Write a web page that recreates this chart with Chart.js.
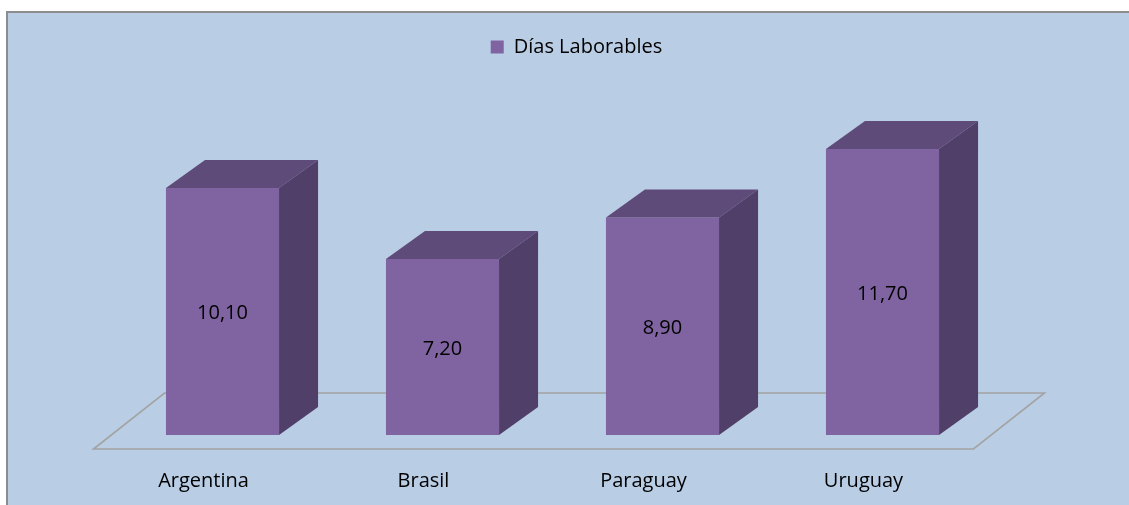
<!DOCTYPE html>
<html>
<head>
<meta charset="utf-8">
<script src="https://cdn.jsdelivr.net/npm/chart.js@4.4.1/dist/chart.umd.min.js"></script>
<style>
  html, body { margin: 0; padding: 0; background: #ffffff; }
  #wrap { position: relative; width: 1129px; height: 505px; }
</style>
</head>
<body>
<div id="wrap"><canvas id="chart" width="1129" height="505"></canvas></div>
<script>
// Días laborables por país
const categories = ['Argentina', 'Brasil', 'Paraguay', 'Uruguay'];
const seriesName = 'Días Laborables';
const diasLaborables = [10.10, 7.20, 8.90, 11.70];

const FONT = "'Open Sans', 'Noto Sans', sans-serif";
const FRONT = '#8064A2';
const TOP = '#5F4B7A';
const SIDE = '#503F68';
const PANEL = '#B9CDE5';

const fmt = v => v.toFixed(2).replace('.', ',');

// Panel background with a thin grey frame
const panelPlugin = {
  id: 'panel',
  beforeDraw(chart) {
    const ctx = chart.ctx;
    ctx.save();
    ctx.fillStyle = '#ffffff';
    ctx.fillRect(0, 0, chart.width, chart.height);
    ctx.fillStyle = PANEL;
    ctx.fillRect(6, 11, chart.width, chart.height);
    ctx.strokeStyle = '#8C8C8C';
    ctx.lineWidth = 2;
    ctx.beginPath();
    ctx.moveTo(7, chart.height + 2);
    ctx.lineTo(7, 12);
    ctx.lineTo(chart.width + 2, 12);
    ctx.stroke();
    ctx.restore();
  }
};

// Perspective floor and extruded bar faces
const depthPlugin = {
  id: 'depth',
  beforeDatasetsDraw(chart) {
    const { ctx, chartArea, scales } = chart;
    const base = scales.y.getPixelForValue(0);
    const fx = -19, fy = 14, bx = 52, by = -42;
    ctx.save();
    ctx.strokeStyle = '#A3A3A3';
    ctx.lineWidth = 1.6;
    ctx.beginPath();
    ctx.moveTo(chartArea.left + fx, base + fy);
    ctx.lineTo(chartArea.right + fx, base + fy);
    ctx.lineTo(chartArea.right + bx, base + by);
    ctx.lineTo(chartArea.left + bx, base + by);
    ctx.closePath();
    ctx.stroke();
    ctx.restore();
  },
  afterDatasetsDraw(chart) {
    const ctx = chart.ctx;
    const meta = chart.getDatasetMeta(0);
    ctx.save();
    meta.data.forEach((bar, i) => {
      const { x, y, base, width } = bar.getProps(['x', 'y', 'base', 'width'], true);
      const l = x - width / 2, r = x + width / 2;
      const dx = width * 0.345, dy = 28;
      // top face
      ctx.fillStyle = TOP;
      ctx.beginPath();
      ctx.moveTo(l, y);
      ctx.lineTo(l + dx, y - dy);
      ctx.lineTo(r + dx, y - dy);
      ctx.lineTo(r, y);
      ctx.closePath();
      ctx.fill();
      // side face
      ctx.fillStyle = SIDE;
      ctx.beginPath();
      ctx.moveTo(r, y);
      ctx.lineTo(r + dx, y - dy);
      ctx.lineTo(r + dx, base - dy);
      ctx.lineTo(r, base);
      ctx.closePath();
      ctx.fill();
      // value label on the front face
      ctx.fillStyle = '#000000';
      ctx.font = '20px ' + FONT;
      ctx.textAlign = 'center';
      ctx.textBaseline = 'middle';
      ctx.fillText(fmt(diasLaborables[i]), x, (y + base) / 2 + 2);
    });
    ctx.restore();
  }
};

new Chart(document.getElementById('chart'), {
  type: 'bar',
  data: {
    labels: categories,
    datasets: [{
      label: seriesName,
      data: diasLaborables,
      backgroundColor: FRONT,
      borderWidth: 0,
      categoryPercentage: 1,
      barPercentage: 0.514
    }]
  },
  options: {
    responsive: false,
    animation: false,
    events: [],
    layout: { padding: { top: 27, left: 24, right: 0, bottom: 0 } },
    plugins: {
      legend: {
        display: true,
        position: 'top',
        labels: {
          boxWidth: 13,
          boxHeight: 13,
          padding: 10,
          color: '#000000',
          font: { family: FONT, size: 20 }
        }
      },
      tooltip: { enabled: false }
    },
    scales: {
      x: {
        grid: { display: false, drawTicks: false },
        border: { display: false },
        ticks: {
          color: '#000000',
          font: { family: FONT, size: 20 },
          padding: 34,
          labelOffset: -19,
          maxRotation: 0
        },
        afterFit(scale) { scale.height = 70; }
      },
      y: {
        position: 'left',
        min: 0,
        max: 15.05,
        grid: { display: false, drawTicks: false },
        border: { display: false },
        ticks: { display: false },
        afterFit(scale) { scale.width = 88.5; }
      },
      yRight: {
        type: 'linear',
        position: 'right',
        grid: { display: false, drawTicks: false },
        border: { display: false },
        ticks: { display: false },
        afterFit(scale) { scale.width = 136.5; }
      }
    }
  },
  plugins: [panelPlugin, depthPlugin]
});
</script>
</body>
</html>
